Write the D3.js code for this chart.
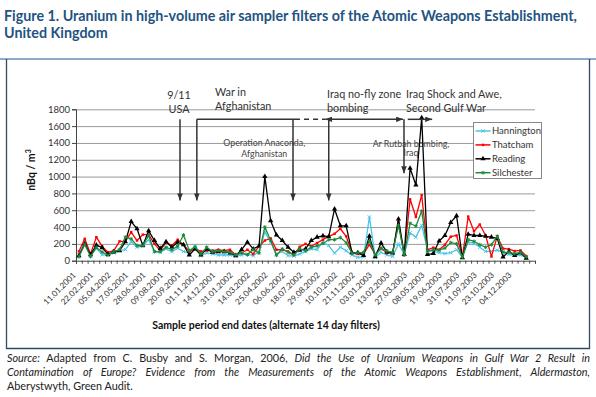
<!DOCTYPE html>
<html lang="en">
<head>
<meta charset="UTF-8">
<title>Uranium in high-volume air sampler filters</title>
<script src="https://d3js.org/d3.v7.min.js"></script>
<style>
  body { margin: 0; background: #fff; }
  text { font-family: Lato, "Open Sans", sans-serif; }
</style>
</head>
<body>
<svg width="596" height="397"></svg>
<script>
// labels on every third sample (alternate 14 day filters)
var tickDates = ["11.01.2001","22.02.2001","05.04.2002","17.05.2001","28.06.2001","09.08.2001",
  "20.09.2001","01.11.2001","14.12.2001","31.01.2002","14.03.2002","25.04.2002","06.06.2002",
  "18.07.2002","29.08.2002","10.10.2002","21.11.2002","03.01.2003","13.02.2003","27.03.2003",
  "08.05.2003","19.06.2003","31.07.2003","11.09.2003","23.10.2003","04.12.2003"];
var nCategories = 79;
var yTicks = [0,200,400,600,800,1000,1200,1400,1600,1800];

// nBq / m3
var hannington = [72,228,60,148,72,68,92,120,132,228, 160,172,250,108,100,140,108,148,110,90,
  180,60,92,80,68,68,68,52,68,80, 60,110,340,220,80,110,60,55,80,108,
  140,132,220,180,90,160,120,68,40,45, 520,40,100,68,50,200,75,330,280,420,
  125,110,95,85,95,130,45,220,205,160, 110,110,125,105,75,65,68,40];
var thatcham = [110,260,80,280,170,100,120,230,230,340, 240,310,310,200,120,220,180,250,190,110,
  140,110,120,120,130,120,130,68,92,130, 80,170,240,265,130,130,110,70,165,200,
  172,210,250,290,320,380,290,92,80,85, 190,75,150,90,92,460,65,730,520,780,
  130,155,130,190,285,300,45,525,350,430, 300,50,290,145,138,115,122,55];
var reading = [58,198,70,185,155,75,105,120,225,465, 380,180,355,240,145,225,160,220,190,68,
  140,68,140,100,108,108,92,60,132,220, 140,175,1000,475,305,240,160,100,125,140,
  240,280,295,285,615,415,415,95,95,62, 292,48,210,105,92,495,75,1100,900,1700,
  75,85,235,300,455,535,35,315,300,300, 290,280,265,45,110,62,95,28];
var silchester = [46,195,50,158,104,65,108,132,280,260, 180,180,300,108,108,160,132,172,305,120,
  165,80,160,108,120,108,100,68,92,70, 132,90,400,240,65,140,100,68,140,120,
  160,175,205,250,250,275,215,90,95,100, 235,68,145,115,98,420,70,445,410,590,
  110,130,125,150,215,200,42,250,230,190, 160,190,290,100,100,85,100,45];

var series = [
  {name: "Hannington", values: hannington, color: "#4dc4ea", symbol: d3.symbolX, size: 9, stroke: true},
  {name: "Thatcham",   values: thatcham,   color: "#ff0000", symbol: d3.symbolSquare, size: 6, stroke: false},
  {name: "Reading",    values: reading,    color: "#000000", symbol: d3.symbolTriangle, size: 12, stroke: false},
  {name: "Silchester", values: silchester, color: "#1d8a3c", symbol: d3.symbolAsterisk, size: 10, stroke: true}
];

// event annotations, in category / value units
var eventArrows = [
  {c: 17.9, from: 1681, to: 716},
  {c: 20.8, from: 1681, to: 716},
  {c: 37.35, from: 1681, to: 716},
  {c: 43.5, from: 1681, to: 716},
  {c: 56.45, from: 1681, to: 1039}
];
var eventSpans = [
  {c0: 20.8, c1: 37.7, v: 1681, dash: false, start: false, end: false},
  {c0: 37.7, c1: 42.9, v: 1681, dash: true, start: false, end: false},
  {c0: 42.9, c1: 56.3, v: 1681, dash: false, start: true, end: true},
  {c0: 57.1, c1: 61.3, v: 1681, dash: false, start: false, end: true}
];
var eventLabels = [
  {lines: ["9/11", "USA"], c: 17.73, v: [1919, 1752], anchor: "middle", size: 10.8},
  {lines: ["War in", "Afghanistan"], c: 23.92, v: [1958, 1792], anchor: "start", size: 10.8},
  {lines: ["Operation Anaconda,", "Afghanistan"], c: 32.4, v: [1364, 1233], anchor: "middle", size: 8.8},
  {lines: ["Iraq no-fly zone", "bombing"], c: 43.2, v: [1940, 1768], anchor: "start", size: 10.8},
  {lines: ["Iraq Shock and Awe,", "Second Gulf War"], c: 56.8, v: [1940, 1768], anchor: "start", size: 10.8},
  {lines: ["Ar Rutbah bombing,", "Iraq"], c: 57.66, v: [1355, 1239], anchor: "middle", size: 8.8}
];

var svg = d3.select("svg");
svg.append("rect").attr("width", 596).attr("height", 397).attr("fill", "#fff");

// heading
var head = svg.append("text").attr("fill", "#245382").attr("font-weight", "bold").attr("font-size", 14.3);
head.append("tspan").attr("x", 4).attr("y", 21)
  .text("Figure 1. Uranium in high-volume air sampler filters of the Atomic Weapons Establishment,");
head.append("tspan").attr("x", 4).attr("y", 38).text("United Kingdom");

// frame
svg.append("line").attr("x1", 0).attr("x2", 596).attr("y1", 59).attr("y2", 59)
  .attr("stroke", "#8eaacb").attr("stroke-width", 2);
svg.append("path").attr("d", "M6.5,59V348.5H589.5V59").attr("fill", "none")
  .attr("stroke", "#2d4c6c").attr("stroke-width", 1.3);

var plotL = 76, plotR = 535, plotT = 109.3, plotB = 260.7;
var x = d3.scaleLinear().domain([0, nCategories]).range([plotL, plotR]);
var y = d3.scaleLinear().domain([0, 1800]).range([plotB, plotT]);

// gridlines
svg.append("g").attr("transform", "translate(" + plotL + ",0)")
  .call(d3.axisRight(y).tickValues(yTicks.slice(1)).tickSize(plotR - plotL).tickFormat(""))
  .call(function (g) {
    g.select(".domain").remove();
    g.selectAll("line").attr("stroke", "#9a9a9a").attr("stroke-width", 1);
  });

// event labels (drawn under the data)
eventLabels.forEach(function (e) {
  var t = svg.append("text").attr("text-anchor", e.anchor).attr("font-size", e.size)
    .attr("fill", e.size < 10 ? "#444" : "#333");
  e.lines.forEach(function (s, k) {
    t.append("tspan").attr("x", x(e.c)).attr("y", y(e.v[k])).text(s);
  });
});

// y axis
svg.append("g").attr("transform", "translate(" + plotL + ",0)")
  .call(d3.axisLeft(y).tickValues(yTicks).tickSize(4).tickPadding(2).tickFormat(d3.format("d")))
  .call(function (g) {
    g.selectAll("line, path").attr("stroke", "#444");
    g.selectAll("text").attr("font-family", "Lato, sans-serif").attr("font-size", 9.5).attr("fill", "#333");
  });

// x axis: minor ticks at category edges, labels every third category
svg.append("g").attr("transform", "translate(0," + plotB + ")")
  .call(d3.axisBottom(x).tickValues(d3.range(nCategories + 1)).tickSize(3).tickFormat(""))
  .call(function (g) {
    g.selectAll("line, path").attr("stroke", "#444");
  });
svg.append("g").attr("transform", "translate(0," + plotB + ")")
  .call(d3.axisBottom(x).tickValues(d3.range(0, tickDates.length * 3, 3).map(function (i) { return i + 0.5; }))
    .tickSize(0).tickFormat(function (d) { return tickDates[(d - 0.5) / 3]; }))
  .call(function (g) {
    g.select(".domain").remove();
    g.selectAll("text").attr("font-family", "Lato, sans-serif").attr("font-size", 8.2).attr("fill", "#333")
      .attr("text-anchor", "end").attr("x", 0).attr("y", 0).attr("dy", 0)
      .attr("transform", "translate(-3,15) rotate(-45)");
  });

// series
var line = d3.line()
  .x(function (d, i) { return x(i + 0.5); })
  .y(function (d) { return y(d); });

series.forEach(function (s) {
  var g = svg.append("g");
  g.append("path").datum(s.values).attr("d", line).attr("fill", "none")
    .attr("stroke", s.color).attr("stroke-width", 1.3).attr("stroke-linejoin", "round");
  g.selectAll("path.m").data(s.values).enter().append("path").attr("class", "m")
    .attr("transform", function (d, i) { return "translate(" + x(i + 0.5) + "," + y(d) + ")"; })
    .attr("d", d3.symbol().type(s.symbol).size(s.size))
    .attr("fill", s.stroke ? "none" : s.color)
    .attr("stroke", s.stroke ? s.color : "none").attr("stroke-width", 1);
});

// arrows
var defs = svg.append("defs");
defs.append("marker").attr("id", "head").attr("viewBox", "0 0 10 8")
  .attr("refX", 10).attr("refY", 4).attr("markerWidth", 7).attr("markerHeight", 5.6)
  .attr("markerUnits", "userSpaceOnUse").attr("orient", "auto-start-reverse")
  .append("path").attr("d", "M0,0L10,4L0,8Z").attr("fill", "#333");

eventArrows.forEach(function (a) {
  svg.append("line").attr("x1", x(a.c)).attr("x2", x(a.c)).attr("y1", y(a.from)).attr("y2", y(a.to))
    .attr("stroke", "#333").attr("stroke-width", 1.5).attr("marker-end", "url(#head)");
});
eventSpans.forEach(function (s) {
  svg.append("line").attr("x1", x(s.c0)).attr("x2", x(s.c1)).attr("y1", y(s.v)).attr("y2", y(s.v))
    .attr("stroke", "#333").attr("stroke-width", 1.5)
    .attr("stroke-dasharray", s.dash ? "5,4" : null)
    .attr("marker-start", s.start ? "url(#head)" : null)
    .attr("marker-end", s.end ? "url(#head)" : null);
});

// legend
var lg = svg.append("g").attr("transform", "translate(473.5,122.5)");
lg.append("rect").attr("width", 68).attr("height", 56).attr("fill", "#fff").attr("stroke", "#888");
series.forEach(function (s, k) {
  var row = lg.append("g").attr("transform", "translate(0," + (8.5 + k * 13.9) + ")");
  row.append("line").attr("x1", 2).attr("x2", 17).attr("stroke", s.color).attr("stroke-width", 1.5);
  row.append("path").attr("transform", "translate(9.5,0)")
    .attr("d", d3.symbol().type(s.symbol).size(s.size))
    .attr("fill", s.stroke ? "none" : s.color).attr("stroke", s.stroke ? s.color : "none");
  row.append("text").attr("x", 18.5).attr("dy", "0.35em").attr("font-size", 9.5).attr("fill", "#333").text(s.name);
});

// axis titles
svg.append("text").attr("x", 266).attr("y", 329).attr("text-anchor", "middle")
  .attr("font-size", 10.5).attr("font-weight", "bold").attr("fill", "#111")
  .text("Sample period end dates (alternate 14 day filters)");
var yt = svg.append("text").attr("transform", "translate(35,170) rotate(-90)").attr("text-anchor", "middle")
  .attr("font-size", 10.5).attr("font-weight", "bold").attr("fill", "#111");
yt.append("tspan").text("nBq / m");
yt.append("tspan").attr("font-size", 7).attr("dy", -4).text("3");

// source note, first two lines justified
var srcLines = [
  [["Source:", true], [" Adapted from C. Busby and S. Morgan, 2006, ", false],
   ["Did the Use of Uranium Weapons in Gulf War 2 Result in", true]],
  [["Contamination of Europe? Evidence from the Measurements of the Atomic Weapons Establishment, Aldermaston,", true]],
  [["Aberystwyth, Green Audit.", false]]
];
srcLines.forEach(function (parts, k) {
  var t = svg.append("text").attr("x", 7).attr("y", 362 + k * 14).attr("font-size", 10.8).attr("fill", "#222");
  parts.forEach(function (p) {
    t.append("tspan").attr("font-style", p[1] ? "italic" : "normal").text(p[0]);
  });
  if (k < 2) {
    var full = 583, w = t.node().getComputedTextLength();
    var spaces = parts.map(function (p) { return p[0]; }).join("").split(" ").length - 1;
    t.attr("word-spacing", (full - w) / spaces);
  }
});
</script>
</body>
</html>
